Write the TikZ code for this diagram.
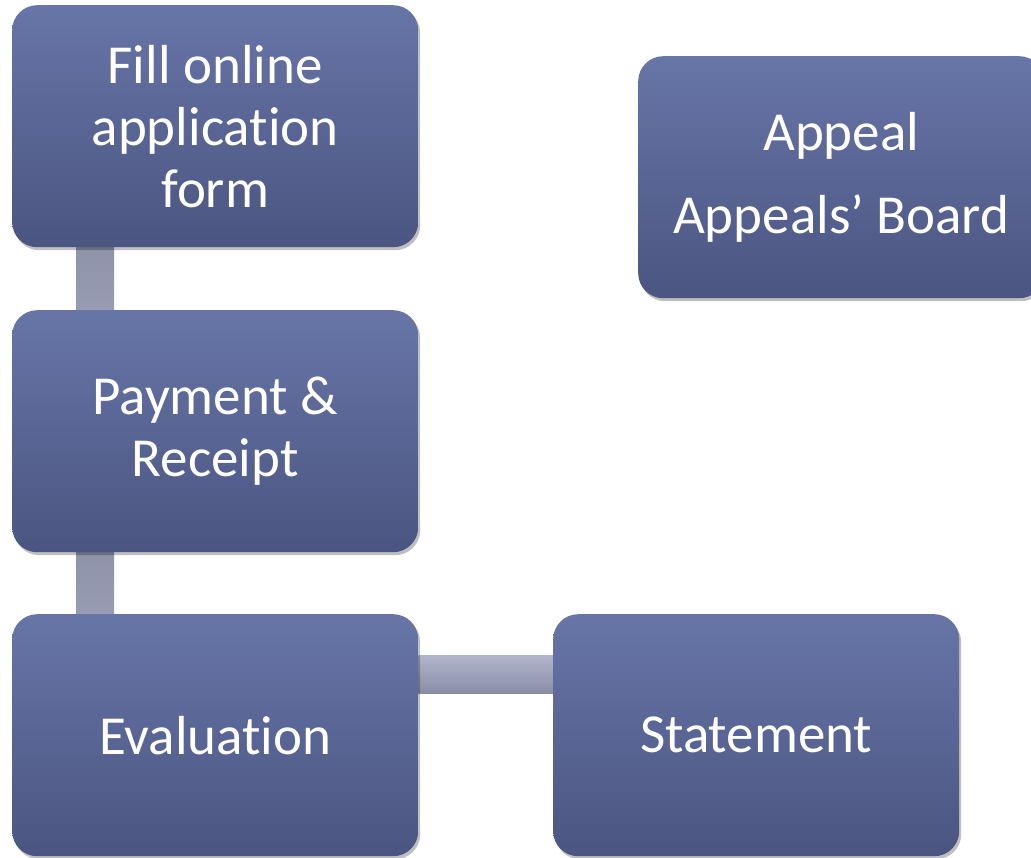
\documentclass[tikz,border=0pt]{standalone}
\usepackage{fontspec}
\setmainfont{Carlito}[Ligatures={NoCommon}]
\usetikzlibrary{shadows,backgrounds}
\definecolor{boxtop}{HTML}{6775A7}
\definecolor{boxbot}{HTML}{4B5581}
\definecolor{contop}{HTML}{B1B6CD}
\definecolor{conbot}{HTML}{898DA5}
\definecolor{vtop}{HTML}{8F93AA}
\definecolor{vbot}{HTML}{989CB2}
\tikzset{
  box/.style={rectangle, rounded corners=25pt, minimum width=406pt, minimum height=242pt,
    top color=boxtop, bottom color=boxbot, draw=none, text=white, align=center,
    font=\fontsize{55}{62}\selectfont, inner sep=0pt,
    drop shadow={shadow xshift=2pt, shadow yshift=-3pt, opacity=0.25, fill=black}},
  vconn/.style={top color=vtop, bottom color=vbot, draw=none},
  hconn/.style={top color=contop, bottom color=conbot, draw=none},
}
\begin{document}
\begin{tikzpicture}[x=1pt, y=-1pt]
\useasboundingbox (0,0) rectangle (1031,857);
% nodes
\node[box, anchor=north west] (fill) at (12,5) {Fill online\\application\\form};
\node[box, anchor=north west] (pay) at (12,310) {Payment \&\\Receipt};
\node[box, anchor=north west] (eval) at (12,614) {Evaluation};
\node[box, anchor=north west] (stat) at (553,614) {Statement};
\node[box, anchor=north west, font=\fontsize{55}{83}\selectfont] (appeal) at (638,56) {Appeal\\Appeals’ Board};
% connectors (behind boxes)
\begin{scope}[on background layer]
\fill[white] (0,0) rectangle (1031,857);
\path[vconn] ([xshift=64pt]fill.south west) rectangle ([xshift=102pt]pay.north west);
\path[vconn] ([xshift=64pt]pay.south west) rectangle ([xshift=102pt]eval.north west);
\path[hconn] ([yshift=-41pt]eval.north east) rectangle ([yshift=-79pt]stat.north west);
\end{scope}
\end{tikzpicture}
\end{document}
